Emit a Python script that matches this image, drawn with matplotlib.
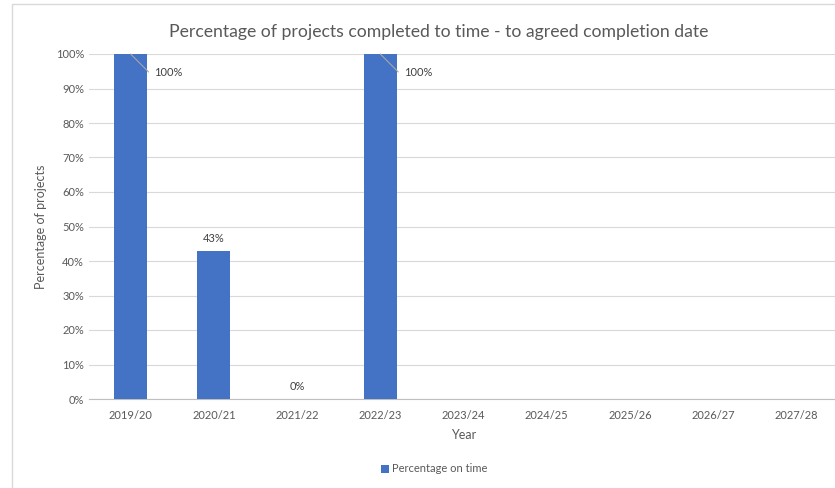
import numpy as np
import matplotlib.pyplot as plt
from matplotlib.patches import Rectangle

years = ['2019/20', '2020/21', '2021/22', '2022/23', '2023/24',
         '2024/25', '2025/26', '2026/27', '2027/28']
on_time = [1.00, 0.43, 0.00, 1.00, np.nan, np.nan, np.nan, np.nan, np.nan]
labels = ['100%', '43%', '0%', '100%', '', '', '', '', '']

plt.rcParams['font.family'] = ['Lato', 'DejaVu Sans']
grey = '#595959'
blue = '#4472C4'

fig = plt.figure(figsize=(8.35, 4.88), dpi=100)
fig.patches.append(Rectangle((12 / 835, -0.1), 1.2, 1 - 4 / 488 + 0.1,
                             transform=fig.transFigure, fill=False,
                             edgecolor='#d9d9d9', linewidth=1))
ax = fig.add_axes([89 / 835, 1 - 399 / 488, 749 / 835, 345 / 488])

x = np.arange(len(years))
vals = np.nan_to_num(on_time)
ax.bar(x, vals, width=0.4, color=blue, zorder=3, label='Percentage on time')

ax.set_xlim(-0.5, len(years) - 0.5)
ax.set_ylim(0, 1)
ax.set_yticks(np.arange(0, 1.01, 0.1))
ax.set_yticklabels([f'{int(round(v * 100))}%' for v in np.arange(0, 1.01, 0.1)])
ax.set_xticks(x)
ax.set_xticklabels(years)
ax.tick_params(length=0, colors=grey, labelsize=8)
ax.tick_params(axis='x', pad=8)
ax.grid(axis='y', color='#d9d9d9', linewidth=0.8, zorder=0)
for s in ['top', 'right', 'left']:
    ax.spines[s].set_visible(False)
ax.spines['bottom'].set_color('#bfbfbf')

ax.set_xlabel('Year', color=grey, fontsize=9, labelpad=6)
ax.set_ylabel('Percentage of projects', color=grey, fontsize=9, labelpad=6)
fig.text(439 / 835, 1 - 32 / 488, 'Percentage of projects completed to time - to agreed completion date',
         ha='center', va='center', fontsize=12.7, color=grey)

# data labels
for xi, v, lab in zip(x, vals, labels):
    if not lab:
        continue
    if v >= 0.99:
        ax.annotate(lab, xy=(xi, v), xytext=(xi + 0.28, v - 0.055),
                    ha='left', va='center', fontsize=8, color='#404040',
                    arrowprops=dict(arrowstyle='-', color='#a6a6a6', lw=0.8,
                                    connectionstyle='angle,angleA=0,angleB=-45,rad=0',
                                    shrinkA=2, shrinkB=0))
    else:
        ax.text(xi, v + 0.02, lab, ha='center', va='bottom', fontsize=8, color='#404040')

leg = fig.legend(loc='center', bbox_to_anchor=(0.52, 1 - 469 / 488), frameon=False,
                 fontsize=8, handlelength=0.7, handleheight=0.7, handletextpad=0.3)
for t in leg.get_texts():
    t.set_color(grey)

fig.savefig('out.png', dpi=100)
